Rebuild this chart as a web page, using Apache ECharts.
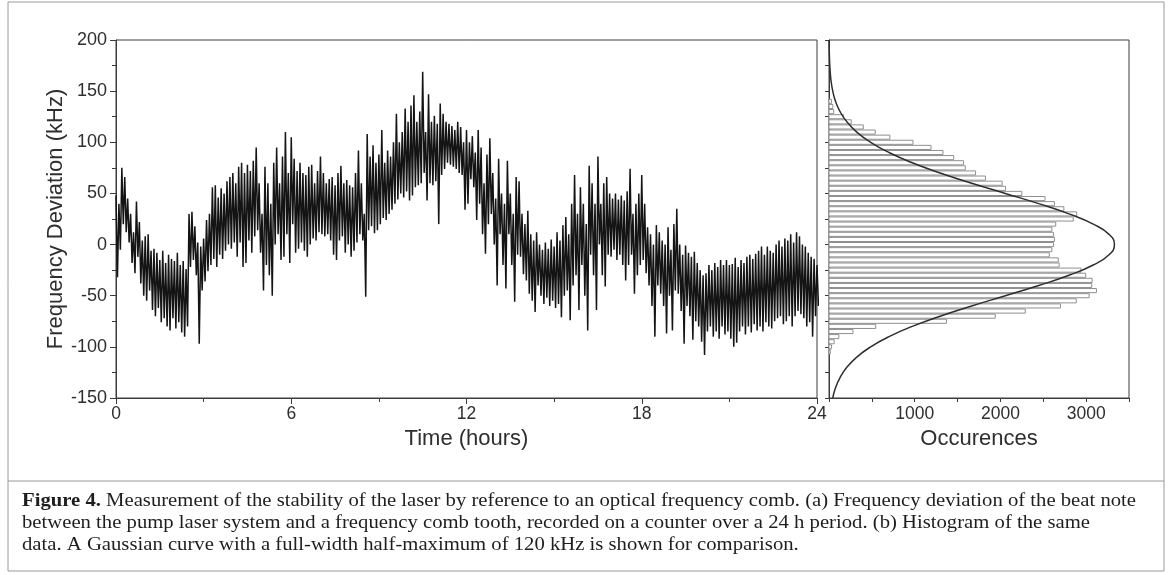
<!DOCTYPE html>
<html><head><meta charset="utf-8">
<script src="https://cdn.jsdelivr.net/npm/echarts@6/dist/echarts.min.js"></script>
<style>html,body{margin:0;padding:0;background:#fff}#c{width:1168px;height:575px}</style>
</head><body><div id="c"></div>
<script>
// ---- data ----
const timeStep = 0.1; // hours between successive (high, low) samples
// local maxima of the beat-note trace, one per 0.1 h (kHz), t = 0 .. 24 h
const traceHigh = [
  48, 40, 75, 66, 45, 30, 12, 42, 22, 4,
  8, 10, -6, -4, -8, -15, -6, -18, -10, -14,
  -16, -8, -20, -16, -24, 30, 32, 18, 2, -2,
  6, 24, 30, 56, 58, 46, 55, 50, 62, 66,
  70, 60, 76, 80, 70, 78, 72, 82, 95, 60,
  30, 76, 60, 40, 80, 95, 60, 86, 110, 70,
  105, 84, 72, 80, 70, 68, 76, 78, 60, 72,
  86, 70, 60, 64, 66, 58, 70, 77, 60, 63,
  58, 56, 70, 92, 60, 30, 108, 86, 97, 80,
  88, 112, 80, 92, 86, 100, 128, 100, 110, 133,
  120, 136, 146, 120, 130, 169, 110, 147, 120, 126,
  118, 138, 128, 120, 118, 116, 112, 120, 115, 100,
  112, 100, 106, 90, 112, 95, 60, 88, 104, 70,
  45, 84, 50, 40, 82, 50, 30, 66, 62, 30,
  20, 33, 10, 4, 12, 0, -5, 2, -4, 5,
  -2, 12, 4, 19, 27, 10, 40, 68, 30, 56,
  40, 20, 77, 60, 40, 86, 40, 60, 66, 50,
  45, 50, 44, 48, 43, 52, 74, 30, 40, 50,
  68, 40, 17, 10, 0, 19, 12, 4, 0, 17,
  -5, 20, 35, 0, -10, -1, -8, -12, -7, -18,
  -25, -30, -28, -20, -25, -18, -22, -15, -20, -15,
  -20, -19, -13, -22, -15, -18, -12, -10, -14, -9,
  -6, -2, -10, -2, -6, -8, 0, 4, -2, 6,
  4, 10, 2, 12, 8, 0, -2, -8, -12, -14,
  -20
];
// local minima of the trace, one per 0.1 h (kHz)
const traceLow = [
  -32, -5, 20, 12, 2, -18, -28, -12, -38, -50,
  -55, -45, -64, -70, -62, -76, -72, -80, -84, -72,
  -82, -76, -86, -90, -80, -22, -15, -30, -97, -45,
  -36, -26, -20, -14, -22, -10, -14, -6, 0, -4,
  2, -12, 2, -22, -18, 4, -8, 8, 14, -8,
  -45, -20, -30, -50, 0, 10, -15, -12, 10, -18,
  20, -8, -4, 2, -6, -12, 0, 6, 4, 12,
  10, 8, 10, 4, -10, -15, 4, 8, -8, 0,
  -12, -6, 2, 10, 4, -51, 14, 18, 11, 14,
  20, 26, 24, 30, 34, 40, 44, 50, 46, 52,
  43, 48, 56, 58, 60, 70, 43, 60, 58, 62,
  20, 68, 74, 80, 78, 76, 74, 70, 68, 34,
  40, 64, 56, 24, 40, 10, -9, 20, 30, 0,
  -40, 10, -20, -43, 10, -20, -56, -10, -12, -29,
  -35, -48, -55, -66, -40, -50, -58, -52, -60, -55,
  -62, -58, -71, -50, -45, -74, -40, -30, -64, -20,
  -50, -84, -10, -30, -64, 0, -30, -41, -10, -12,
  -5, -15, -10, -20, -35, -20, -10, -48, -30, -20,
  -15, -28, -40, -60, -90, -40, -48, -60, -87, -50,
  -84, -45, -48, -65, -97, -60, -70, -93, -75, -80,
  -95, -108, -85, -80, -90, -85, -92, -80, -88, -85,
  -92, -100, -96, -85, -80, -88, -80, -86, -78, -84,
  -80, -85, -76, -80, -82, -75, -72, -70, -78, -75,
  -70, -80, -70, -65, -68, -72, -80, -76, -90, -70,
  -60
];
// histogram bin centres (kHz) and occurrences
const histCenters = [140, 135, 130, 125, 120, 115, 110, 105, 100, 95,
  90, 85, 80, 75, 70, 65, 60, 55, 50, 45,
  40, 35, 30, 25, 20, 15, 10, 5, 0, -5,
  -10, -15, -20, -25, -30, -35, -40, -45, -50, -55,
  -60, -65, -70, -75, -80, -85, -90, -95, -100, -105];
const histCounts = [30, 45, 55, 170, 260, 400, 540, 710, 980, 1190,
  1330, 1455, 1570, 1590, 1710, 1825, 2020, 2060, 2250, 2520,
  2630, 2740, 2890, 2850, 2645, 2600, 2620, 2630, 2620, 2600,
  2570, 2675, 2685, 2940, 2995, 3070, 3065, 3120, 3035, 2885,
  2700, 2290, 1940, 1370, 545, 280, 115, 60, 30, 15];
// comparison Gaussian curve (FWHM 120 kHz) read at 10 kHz steps
const gaussFreq = [200, 190, 180, 170, 160, 150, 140, 130, 120, 110,
  100, 90, 80, 70, 60, 50, 40, 30, 20, 10, 0,
  -10, -20, -30, -40, -50, -60, -70, -80, -90, -100,
  -110, -120, -130, -140, -150];
const gaussCounts = [1.5, 3, 6.5, 13, 24, 44, 76, 129, 208, 324,
  486, 700, 971, 1296, 1665, 2058, 2447, 2800, 3083, 3267, 3330,
  3267, 3083, 2800, 2447, 2058, 1665, 1296, 971, 700, 486,
  324, 208, 129, 76, 44];

const captionBold = 'Figure 4.';
const captionLines = [
  ' Measurement of the stability of the laser by reference to an optical frequency comb. (a) Frequency deviation of the beat note',
  'between the pump laser system and a frequency comb tooth, recorded on a counter over a 24 h period. (b) Histogram of the same',
  'data. A Gaussian curve with a full-width half-maximum of 120 kHz is shown for comparison.'
];

// ---- build ----
const traceData = [];
for (let i = 0; i < traceHigh.length; i++) {
  const t = i * timeStep;
  traceData.push([t, traceHigh[i]]);
  traceData.push([t + timeStep / 2, traceLow[i]]);
}
const histData = histCenters.map((y, i) => [histCounts[i], y]);
const gaussData = gaussFreq.map((y, i) => [gaussCounts[i], y]);

const sans = '"Liberation Sans", Arial, Helvetica, sans-serif';
const serif = '"Liberation Serif", "Times New Roman", serif';
const capSize = 19;
const mctx = document.createElement('canvas').getContext('2d');
mctx.font = 'bold ' + capSize + 'px ' + serif;
const wBold = mctx.measureText(captionBold).width;
mctx.font = capSize + 'px ' + serif;
const wLine1 = mctx.measureText(captionLines[0]).width;
const capLeft = 22, capRight = 1136;
const capScale = (capRight - capLeft) / (wBold + wLine1);

const axisCol = '#3c3c3c';
const textCol = '#2e2e2e';

const chart = echarts.init(document.getElementById('c'), null, {renderer: 'canvas'});
const option = {
  animation: false,
  backgroundColor: '#fff',
  textStyle: {fontFamily: sans},
  grid: [
    {left: 116, top: 40, width: 701, height: 358, show: true, borderColor: axisCol, borderWidth: 1},
    {left: 829, top: 40, width: 300, height: 358, show: true, borderColor: axisCol, borderWidth: 1}
  ],
  xAxis: [
    {
      gridIndex: 0, type: 'value', min: 0, max: 24, interval: 6,
      name: 'Time (hours)', nameLocation: 'middle', nameGap: 29,
      nameTextStyle: {fontSize: 22, color: textCol, fontFamily: sans},
      axisLine: {onZero: false, lineStyle: {color: axisCol, width: 1}},
      axisTick: {length: 6, lineStyle: {color: axisCol}},
      minorTick: {show: true, splitNumber: 2, length: 4, lineStyle: {color: axisCol}},
      axisLabel: {fontSize: 17.5, color: textCol, margin: 7, fontFamily: sans},
      splitLine: {show: false}
    },
    {
      gridIndex: 1, type: 'value', min: 0, max: 3500, interval: 500,
      name: 'Occurences', nameLocation: 'middle', nameGap: 29,
      nameTextStyle: {fontSize: 22, color: textCol, fontFamily: sans},
      axisLine: {onZero: false, lineStyle: {color: axisCol, width: 1}},
      axisTick: {length: 4, lineStyle: {color: axisCol}},
      axisLabel: {fontSize: 17.5, color: textCol, margin: 7, fontFamily: sans,
        formatter: v => (v > 0 && v % 1000 === 0) ? String(v) : ''},
      splitLine: {show: false}
    }
  ],
  yAxis: [
    {
      gridIndex: 0, type: 'value', min: -150, max: 200, interval: 50,
      name: 'Frequency Deviation (kHz)', nameLocation: 'middle', nameGap: 49, nameRotate: 90,
      nameMoveOverlap: false,
      nameTextStyle: {fontSize: 22, color: textCol, fontFamily: sans},
      axisLine: {onZero: false, lineStyle: {color: axisCol, width: 1}},
      axisTick: {length: 6, lineStyle: {color: axisCol}},
      minorTick: {show: true, splitNumber: 2, length: 4, lineStyle: {color: axisCol}},
      axisLabel: {fontSize: 18, color: textCol, margin: 9, fontFamily: sans},
      splitLine: {show: false}
    },
    {
      gridIndex: 1, type: 'value', min: -150, max: 200, interval: 25,
      axisLine: {onZero: false, lineStyle: {color: axisCol, width: 1}},
      axisTick: {length: 4, lineStyle: {color: axisCol}},
      axisLabel: {show: false},
      splitLine: {show: false}
    }
  ],
  series: [
    {
      type: 'line', xAxisIndex: 0, yAxisIndex: 0, data: traceData,
      symbol: 'none', showSymbol: false, silent: true,
      lineStyle: {color: '#141414', width: 1.5}
    },
    {
      type: 'custom', xAxisIndex: 1, yAxisIndex: 1, data: histData, silent: true,
      encode: {x: 0, y: 1},
      renderItem: function (params, api) {
        const c = api.value(0), y = api.value(1);
        const p1 = api.coord([0, y + 2.5]);
        const p2 = api.coord([c, y - 2.5]);
        return {
          type: 'rect',
          shape: {x: p1[0], y: p1[1] + 0.5, width: p2[0] - p1[0], height: p2[1] - p1[1] - 1},
          style: {fill: '#fff', stroke: '#8f8f8f', lineWidth: 1}
        };
      }
    },
    {
      type: 'line', xAxisIndex: 1, yAxisIndex: 1, data: gaussData, smooth: true,
      symbol: 'none', showSymbol: false, silent: true,
      lineStyle: {color: '#2e2e2e', width: 1.5}
    }
  ],
  graphic: [
    {type: 'rect', shape: {x: 8, y: 2, width: 1156, height: 569}, style: {fill: 'none', stroke: '#9a9a9a', lineWidth: 1}, silent: true},
    {type: 'line', shape: {x1: 8, y1: 481, x2: 1164, y2: 481}, style: {stroke: '#9a9a9a', lineWidth: 1}, silent: true},
    {type: 'text', x: capLeft, y: 501, scaleX: capScale,
      style: {text: captionBold, font: 'bold ' + capSize + 'px ' + serif, fill: '#1e1e1e', textVerticalAlign: 'middle'}},
    {type: 'text', x: capLeft + wBold * capScale, y: 501, scaleX: capScale,
      style: {text: captionLines[0], font: capSize + 'px ' + serif, fill: '#1e1e1e', textVerticalAlign: 'middle'}},
    {type: 'text', x: capLeft, y: 523, scaleX: capScale,
      style: {text: captionLines[1], font: capSize + 'px ' + serif, fill: '#1e1e1e', textVerticalAlign: 'middle'}},
    {type: 'text', x: capLeft, y: 545, scaleX: capScale,
      style: {text: captionLines[2], font: capSize + 'px ' + serif, fill: '#1e1e1e', textVerticalAlign: 'middle'}}
  ]
};
chart.setOption(option);
</script>
</body></html>
